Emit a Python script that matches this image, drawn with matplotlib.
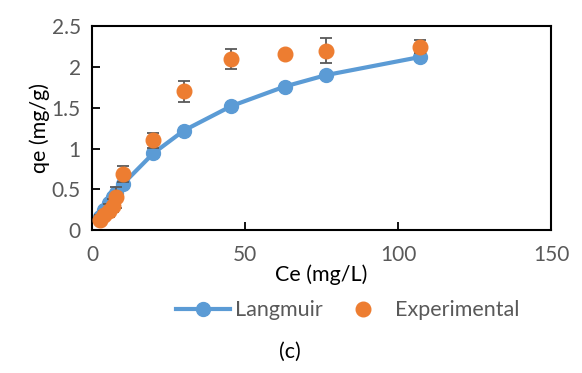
import numpy as np
import matplotlib
matplotlib.use('Agg')
from matplotlib import pyplot as plt

# data
ce = [2.5, 4, 5.5, 7, 8, 10, 20, 30, 45.5, 63, 76.5, 107]
qe_exp = [0.13, 0.18, 0.24, 0.30, 0.40, 0.69, 1.10, 1.70, 2.10, 2.16, 2.20, 2.25]
qe_err = [0.05, 0.05, 0.08, 0.08, 0.13, 0.10, 0.09, 0.13, 0.12, 0.03, 0.155, 0.08]
qe_lang = [0.16, 0.25, 0.33, 0.40, 0.46, 0.56, 0.94, 1.22, 1.52, 1.76, 1.90, 2.12]

xticks = [0, 50, 100, 150]
yticks = [0, 0.5, 1, 1.5, 2, 2.5]
yticklabels = ['0', '0.5', '1', '1.5', '2', '2.5']

BLUE = '#5B9BD5'
ORANGE = '#ED7D31'
GREY = '#595959'

plt.rcParams['font.family'] = ['Lato', 'DejaVu Sans']

fig = plt.figure(figsize=(5.82, 3.73), dpi=100)
ax = fig.add_axes([0.158, 0.383, 0.789, 0.547])

ax.plot(ce, qe_lang, '-o', color=BLUE, lw=3, ms=10, label='Langmuir', zorder=2)
ax.errorbar(ce, qe_exp, yerr=qe_err, fmt='none', ecolor=GREY, elinewidth=1.3,
            capsize=4.5, capthick=1.3, zorder=3)
ax.plot(ce, qe_exp, 'o', color=ORANGE, ms=10.5, label='Experimental', zorder=4)

ax.set_xlim(0, 150)
ax.set_ylim(0, 2.5)
ax.set_xticks(xticks)
ax.set_yticks(yticks)
ax.set_yticklabels(yticklabels)
ax.tick_params(direction='in', length=6, width=1.3, colors='black',
               labelcolor=GREY, labelsize=15, pad=8)
ax.tick_params(axis='x', pad=11)
for s in ax.spines.values():
    s.set_linewidth(1.5)

ax.set_xlabel('Ce (mg/L)', fontsize=15.5, labelpad=-1)
ax.set_ylabel('qe (mg/g)', fontsize=15.5, labelpad=1)

fig.legend(loc='center', bbox_to_anchor=(0.597, 0.168), ncol=2, frameon=False,
           fontsize=15.5, labelcolor=GREY, handlelength=2.5, columnspacing=0.6,
           handletextpad=0.25)
fig.text(0.498, 0.056, '(c)', ha='center', va='center', fontsize=15.5)

fig.savefig('out.png', dpi=100)
